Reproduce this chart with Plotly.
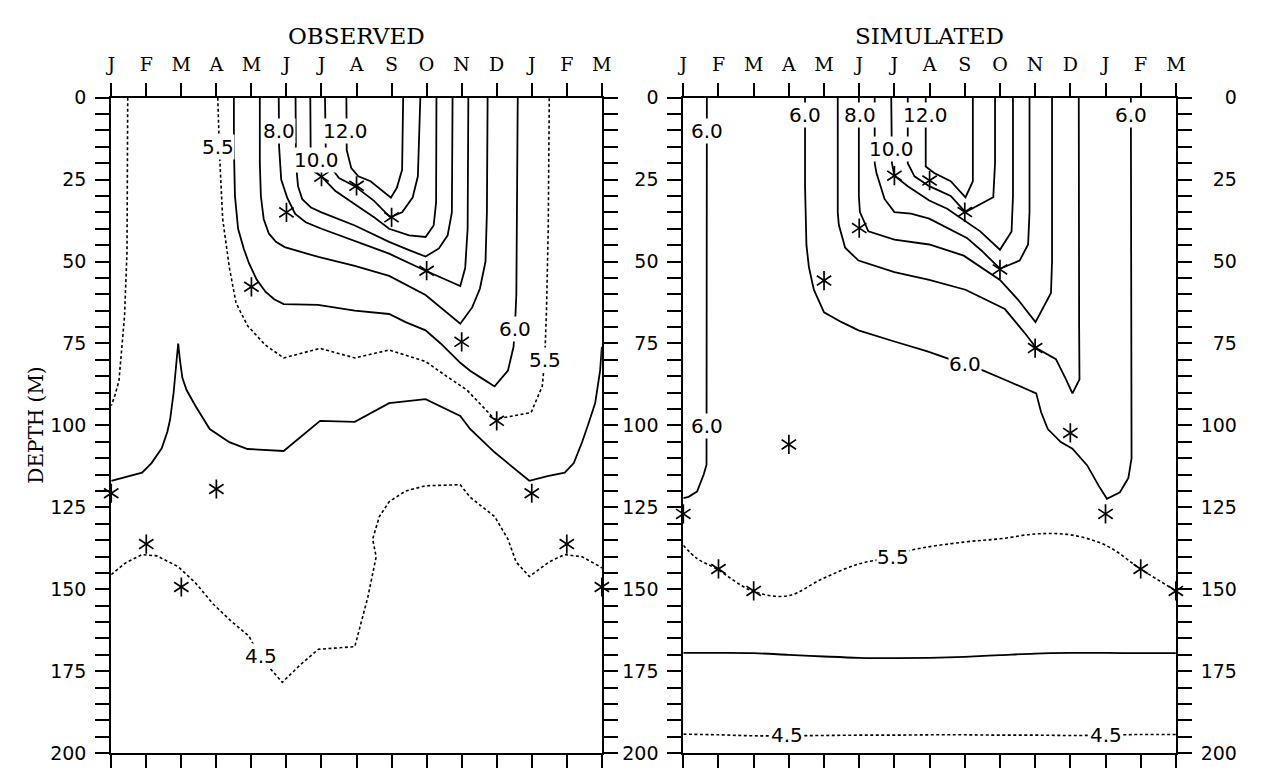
import plotly.graph_objects as go

# ---------------- axes / labels ----------------
MONTH_LABELS = ["J", "F", "M", "A", "M", "J", "J", "A", "S", "O", "N", "D", "J", "F", "M"]
MONTH_POS = list(range(15))
DEPTH_TICKS = [0, 25, 50, 75, 100, 125, 150, 175, 200]
DEPTH_TEXT = ["0", "25", "50", "75", "100", "125", "150", "175", "200"]
DEPTH_TEXT_RIGHT = ["\u2007\u20070", "\u200725", "\u200750", "\u200775", "100", "125", "150", "175", "200"]

# ---------------- thermocline stars (one per month) ----------------
STAR_MONTHS = list(range(15))
OBS_STAR_DEPTH = [120.7, 136.2, 149.3, 119.4, 57.7, 35.0, 24.1, 26.9, 36.5, 52.8, 74.5, 98.6, 120.7, 136.2, 149.3]
SIM_STAR_DEPTH = [127.0, 143.8, 150.5, 105.8, 55.8, 39.8, 23.8, 25.3, 34.9, 52.4, 76.4, 102.3, 127.0, 143.8, 150.5]

# ---------------- OBSERVED isotherms (month position, depth m) ----------------
OBS_120_M = [6.71, 6.72, 6.85, 7.05, 7.4, 7.98, 8.15, 8.30, 8.33]
OBS_120_D = [0, 16, 21.5, 24, 25.5, 30.5, 27.5, 22, 0]

OBS_110_M = [6.10, 6.12, 6.25, 6.5, 6.95, 7.5, 7.96, 8.3, 8.6, 8.75, 8.82]
OBS_110_D = [0, 15, 21, 24.5, 27, 31.5, 36.5, 35, 30.5, 24, 0]

OBS_100_M = [5.68, 5.69, 5.75, 5.88, 6.0, 6.4, 6.95, 7.5, 7.93, 8.5, 8.97, 9.2, 9.27, 9.28]
OBS_100_D = [0, 15, 20, 23, 24.1, 28.5, 32.5, 36.5, 40, 42, 42.5, 39, 32, 0]

OBS_90_M = [5.26, 5.27, 5.33, 5.45, 5.7, 6.0, 6.95, 7.93, 8.5, 8.97, 9.35, 9.6, 9.72, 9.74]
OBS_90_D = [0, 20, 27, 31, 33.5, 35, 39, 44, 46.5, 48.5, 46, 42, 35, 0]

OBS_80_M = [4.78, 4.79, 4.85, 5.02, 5.25, 5.55, 6.0, 6.95, 7.93, 8.97, 9.96, 10.1, 10.17, 10.19]
OBS_80_D = [0, 15, 25, 30.5, 35.5, 38, 40, 43.7, 47.6, 52.8, 57.5, 52, 40, 0]

OBS_70_M = [4.24, 4.24, 4.27, 4.35, 4.5, 4.7, 4.95, 5.91, 6.95, 7.93, 8.97, 9.96, 10.3, 10.52, 10.68, 10.72, 10.74]
OBS_70_D = [0, 20, 30, 37, 41.5, 44, 45.6, 48.6, 51.3, 54.4, 60.2, 69, 64, 58.3, 50, 35, 0]

OBS_60_M = [3.50, 3.50, 3.53, 3.62, 3.78, 3.93, 4.15, 4.4, 4.65, 4.92, 5.9, 6.95, 7.93, 8.4, 8.97,
            9.4, 9.96, 10.24, 10.6, 10.94, 11.32, 11.48, 11.52, 11.56, 11.58, 11.6]
OBS_60_D = [0, 15, 30, 40, 46, 50.5, 55.5, 59.2, 61.5, 63, 63.2, 65, 66, 68.5, 71,
            75, 80.9, 83.3, 85.8, 88.1, 83.3, 76, 70, 60, 30, 0]

OBS_55A_M = [0.47, 0.46, 0.45, 0.38, 0.22, 0.1, 0.0]
OBS_55A_D = [0, 25, 47, 66.6, 86.4, 91, 94]

OBS_55B_M = [3.04, 3.06, 3.09, 3.18, 3.37, 3.56, 3.89, 4.4, 4.92, 5.96, 6.95, 7.93, 8.97, 9.5, 10.15,
             10.94, 11.98, 12.3, 12.37, 12.42, 12.47, 12.5]
OBS_55B_D = [0, 12, 17.2, 37, 51.8, 62.6, 69.6, 75.5, 79.4, 76.5, 79.4, 77, 80.5, 84.5, 89.2,
             98.1, 96.1, 88, 79.9, 65, 40, 0]

OBS_50_M = [0, 0.45, 0.88, 1.15, 1.44, 1.6, 1.68, 1.78, 1.86, 1.91, 1.96, 2.03, 2.15, 2.4, 2.81, 3.37,
            3.89, 4.92, 5.96, 6.95, 7.93, 8.97, 9.96, 10.24, 10.94, 11.93, 12.45, 12.94, 13.2, 13.44,
            13.6, 13.81, 13.95, 14.0]
OBS_50_D = [116.9, 115.5, 114.4, 111.5, 107, 102, 98.2, 90, 82, 75, 80, 85.5, 89.2, 94, 101.1, 105.1,
            107.2, 107.8, 98.6, 98.9, 93.2, 92, 97.1, 101.1, 108.2, 116.9, 115.5, 114.4, 111.5, 105,
            100, 93.2, 83.3, 76]

OBS_45_M = [0, 0.4, 0.88, 1.3, 1.91, 2.4, 2.9, 3.4, 3.93, 4.08, 4.28, 4.4, 4.88, 5.4, 5.91, 6.95,
            7.32, 7.56, 7.46, 7.65, 7.93, 8.4, 8.97, 9.96, 10.24, 10.94, 11.32, 11.55, 11.93, 12.5,
            12.94, 13.44, 13.95, 14.0]
OBS_45_D = [145.5, 142, 139.4, 139.8, 143.1, 148, 154.4, 159.5, 164.3, 167.3, 170, 172.5, 178.4, 173,
            168.3, 167.5, 152.5, 140.1, 134.7, 127.8, 123.3, 120, 118.4, 118.1, 121.9, 127.8, 134.7,
            141.6, 146.1, 141.6, 139.4, 140.1, 143.1, 143.5]

# ---------------- SIMULATED isotherms ----------------
SIM_120_M = [6.89, 6.89, 7.13, 7.6, 8.02, 8.23, 8.23]
SIM_120_D = [0, 21, 23, 25.5, 30.4, 25.5, 0]

SIM_110_M = [6.38, 6.38, 6.57, 6.99, 7.6, 8.02, 8.81, 8.86, 8.86]
SIM_110_D = [0, 20, 24, 27, 30, 34.9, 30.4, 20, 0]

SIM_100_M = [5.91, 5.93, 6.0, 6.38, 6.99, 7.5, 8.44, 9.0, 9.33, 9.37, 9.37]
SIM_100_D = [0, 20, 23.8, 27, 31.4, 33.9, 40.8, 46.4, 40.8, 30, 0]

SIM_90_M = [5.44, 5.44, 5.49, 5.72, 6.0, 6.47, 6.99, 8.06, 8.48, 9.0, 9.56, 9.8, 9.84, 9.84]
SIM_90_D = [0, 20, 23, 30.9, 34.9, 35.4, 36.9, 42.8, 46.7, 52.2, 49.7, 44.8, 35, 0]

SIM_80_M = [4.99, 4.99, 5.02, 5.26, 6.0, 6.99, 7.97, 8.53, 9.0, 9.51, 10.01, 10.45, 10.48, 10.48]
SIM_80_D = [0, 30, 34.9, 40.8, 43.3, 44.8, 48.2, 52.2, 55.6, 61.6, 68.5, 59.6, 50, 0]

SIM_70_M = [4.39, 4.39, 4.42, 4.6, 4.98, 6.0, 6.99, 8.02, 9.14, 9.75, 10.03, 10.59, 10.87, 11.06,
            11.26, 11.25, 11.24]
SIM_70_D = [0, 35, 38.8, 45.8, 49.7, 53.2, 55.6, 58.6, 64.5, 72.4, 76.4, 79.8, 85.8, 90.2,
            86, 70, 0]

SIM_60_M = [3.46, 3.46, 3.50, 3.57, 3.71, 4.0, 4.5, 4.98, 6.0, 6.94, 7.97, 8.53, 9.19, 10.03, 10.17,
            10.36, 10.73, 11.06, 11.48, 11.8, 12.04, 12.41, 12.65, 12.74, 12.72]
SIM_60_D = [0, 27, 45, 51.7, 58.6, 65.5, 68.5, 71, 74.4, 77.4, 81.3, 83.3, 86.3, 90.2, 96,
            101.1, 105.1, 107.1, 112.2, 118.3, 122.4, 120.4, 116, 110, 0]

SIM_60B_M = [0.67, 0.67, 0.66, 0.58, 0.39, 0.15, 0.0]
SIM_60B_D = [0, 108, 112, 115, 120.2, 121.8, 122.2]

SIM_55_M = [0, 0.39, 0.95, 1.96, 2.97, 3.95, 4.98, 5.96, 6.47, 7.97, 9.0, 10.03, 11.01, 12.01, 13.0, 14.0]
SIM_55_D = [136.6, 140.6, 143.8, 150.5, 152.0, 146.8, 142.3, 140.1, 138.1, 135.6, 134.6, 133.1,
            133.4, 136.6, 143.8, 150.5]

SIM_50_M = MONTH_POS
SIM_50_D = [169.4, 169.4, 169.5, 170.0, 170.5, 170.9, 171.0, 170.9, 170.6, 170.1, 169.6, 169.4,
            169.4, 169.5, 169.5]

SIM_45_M = MONTH_POS
SIM_45_D = [194.2, 194.4, 194.7, 194.7, 194.6, 194.5, 194.5, 194.4, 194.4, 194.5, 194.5, 194.6,
            194.5, 194.3, 194.3]

# ---------------- contour labels ----------------
OBS_LABEL_TEXT = ["5.5", "8.0", "12.0", "10.0", "6.0", "5.5", "4.5"]
OBS_LABEL_M = [3.06, 4.80, 6.68, 5.86, 11.51, 12.37, 4.28]
OBS_LABEL_D = [15.2, 10.3, 10.3, 19.0, 70.6, 79.9, 170.3]

SIM_LABEL_TEXT = ["6.0", "6.0", "6.0", "8.0", "12.0", "10.0", "6.0", "6.0", "5.5", "4.5", "4.5"]
SIM_LABEL_M = [0.67, 0.67, 3.46, 5.02, 6.89, 5.91, 12.72, 8.02, 5.96, 2.95, 12.0]
SIM_LABEL_D = [10.2, 100.1, 5.2, 5.2, 5.2, 15.6, 5.2, 81.3, 140.1, 194.5, 194.5]

# ---------------- figure geometry (page has an 8px body margin) ----------------
OFF = 8.0
W, H = 1262 - 2 * int(OFF), 778 - 2 * int(OFF)
LEFT_X = [(106.5 - OFF) / W, (603.5 - OFF) / W]
RIGHT_X = [(686.0 - OFF) / W, (1185.0 - OFF) / W]
Y_DOM = [1 - (764.0 - OFF) / H, 1 - (89.0 - OFF) / H]

SOLID = dict(color="black", width=1.8)
DOTTED = dict(color="black", width=1.6, dash="3px,2.5px")

fig = go.Figure()


def add_line(m, d, style, xa, ya, shape="linear"):
    fig.add_trace(go.Scatter(x=m, y=d, mode="lines", line=dict(shape=shape, **style),
                             xaxis=xa, yaxis=ya, hoverinfo="skip", showlegend=False))


obs_lines = [
    (OBS_120_M, OBS_120_D, SOLID), (OBS_110_M, OBS_110_D, SOLID), (OBS_100_M, OBS_100_D, SOLID),
    (OBS_90_M, OBS_90_D, SOLID), (OBS_80_M, OBS_80_D, SOLID), (OBS_70_M, OBS_70_D, SOLID),
    (OBS_60_M, OBS_60_D, SOLID), (OBS_55A_M, OBS_55A_D, DOTTED), (OBS_55B_M, OBS_55B_D, DOTTED),
    (OBS_50_M, OBS_50_D, SOLID), (OBS_45_M, OBS_45_D, DOTTED),
]
for m, d, st in obs_lines:
    add_line(m, d, st, "x", "y")

sim_lines = [
    (SIM_120_M, SIM_120_D, SOLID, "linear"), (SIM_110_M, SIM_110_D, SOLID, "linear"),
    (SIM_100_M, SIM_100_D, SOLID, "linear"), (SIM_90_M, SIM_90_D, SOLID, "linear"),
    (SIM_80_M, SIM_80_D, SOLID, "linear"), (SIM_70_M, SIM_70_D, SOLID, "linear"),
    (SIM_60_M, SIM_60_D, SOLID, "linear"), (SIM_60B_M, SIM_60B_D, SOLID, "linear"),
    (SIM_55_M, SIM_55_D, DOTTED, "spline"), (SIM_50_M, SIM_50_D, SOLID, "spline"),
    (SIM_45_M, SIM_45_D, DOTTED, "spline"),
]
for m, d, st, sh in sim_lines:
    add_line(m, d, st, "x2", "y2", sh)

# invisible trace so that the right-hand depth axis of the second panel is drawn
fig.add_trace(go.Scatter(x=[None], y=[None], xaxis="x2", yaxis="y3", showlegend=False, hoverinfo="skip"))

LABEL_FONT = dict(family="DejaVu Sans", size=20, color="black")
annotations = []
for t, m, d in zip(OBS_LABEL_TEXT, OBS_LABEL_M, OBS_LABEL_D):
    annotations.append(dict(x=m, y=d, xref="x", yref="y", text=t, showarrow=False,
                            xanchor="center", yanchor="middle",
                            font=LABEL_FONT, bgcolor="white", borderpad=0))
for t, m, d in zip(SIM_LABEL_TEXT, SIM_LABEL_M, SIM_LABEL_D):
    annotations.append(dict(x=m, y=d, xref="x2", yref="y2", text=t, showarrow=False,
                            xanchor="center", yanchor="middle",
                            font=LABEL_FONT, bgcolor="white", borderpad=0))

TITLE_FONT = dict(family="DejaVu Serif", size=23, color="black")
annotations.append(dict(x=sum(LEFT_X) / 2, y=1 - (25.0 - OFF) / H, xref="paper", yref="paper",
                        xanchor="center", yanchor="middle",
                        text="OBSERVED", showarrow=False, font=TITLE_FONT))
annotations.append(dict(x=sum(RIGHT_X) / 2, y=1 - (25.0 - OFF) / H, xref="paper", yref="paper",
                        xanchor="center", yanchor="middle",
                        text="SIMULATED", showarrow=False, font=TITLE_FONT))
annotations.append(dict(x=(30.0 - OFF) / W, y=1 - (426.0 - OFF) / H, xref="paper", yref="paper",
                        xanchor="center", yanchor="middle",
                        text="DEPTH (M)", textangle=-90, showarrow=False,
                        font=dict(family="DejaVu Serif", size=20, color="black")))

xcommon = dict(range=[0, 14], tickmode="array", tickvals=MONTH_POS, ticktext=MONTH_LABELS,
               side="top", ticks="outside", ticklen=13, tickwidth=1.5, tickcolor="black",
               showline=True, linecolor="black", linewidth=2, mirror="ticks",
               showgrid=False, zeroline=False, ticklabelstandoff=4,
               tickfont=dict(family="DejaVu Serif", size=19, color="black"), fixedrange=True)
ycommon = dict(range=[200, 0], tickmode="array", tickvals=DEPTH_TICKS, ticktext=DEPTH_TEXT,
               ticks="outside", ticklen=14, tickwidth=1.5, tickcolor="black",
               showline=True, linecolor="black", linewidth=2, showgrid=False, zeroline=False,
               tickfont=dict(family="DejaVu Sans", size=19, color="black"), ticklabelstandoff=5,
               minor=dict(tickmode="linear", tick0=0, dtick=5, ticks="outside", ticklen=14,
                          tickwidth=1.5, tickcolor="black", showgrid=False),
               fixedrange=True)

fig.update_layout(
    width=W, height=H, margin=dict(l=0, r=0, t=0, b=0),
    paper_bgcolor="white", plot_bgcolor="white", showlegend=False,
    xaxis=dict(domain=LEFT_X, anchor="y", **xcommon),
    yaxis=dict(domain=Y_DOM, anchor="x", mirror="ticks", **ycommon),
    xaxis2=dict(domain=RIGHT_X, anchor="y2", **xcommon),
    yaxis2=dict(domain=Y_DOM, anchor="x2", mirror=False, **ycommon),
    yaxis3=dict(overlaying="y2", anchor="x2", side="right",
                **{**ycommon, "ticktext": DEPTH_TEXT_RIGHT}),
    annotations=annotations,
)

# six-armed asterisks (upward + downward "Y" on the same point), drawn as the
# topmost traces so they stay visible next to the contour labels
for sym in ("y-up-open", "y-down-open"):
    mk = dict(symbol=sym, size=12, color="black", line=dict(color="black", width=1.7))
    fig.add_trace(go.Scatter(x=STAR_MONTHS, y=OBS_STAR_DEPTH, mode="markers", marker=mk,
                             xaxis="x", yaxis="y", cliponaxis=False, hoverinfo="skip", showlegend=False))
    fig.add_trace(go.Scatter(x=STAR_MONTHS, y=SIM_STAR_DEPTH, mode="markers", marker=mk,
                             xaxis="x2", yaxis="y2", cliponaxis=False, hoverinfo="skip", showlegend=False))

fig.write_html("out.html")
